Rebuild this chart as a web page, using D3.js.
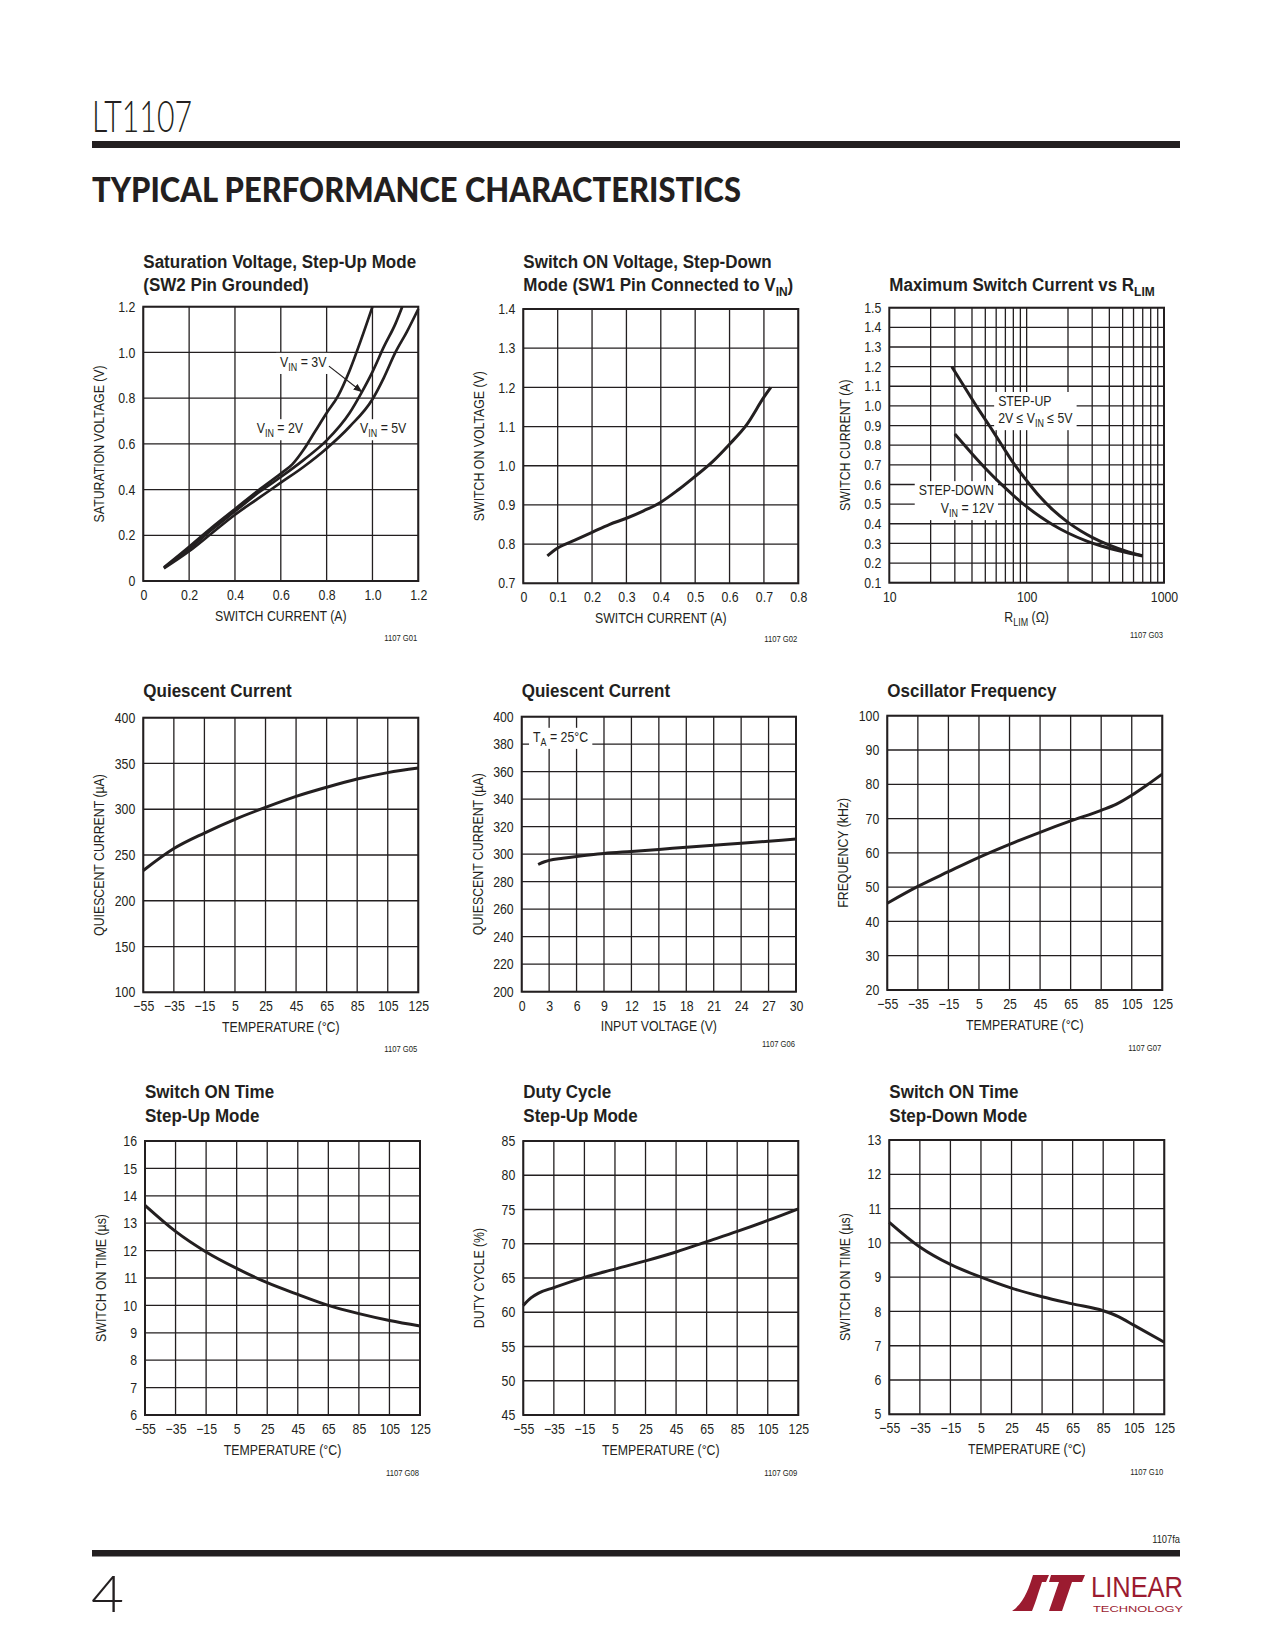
<!DOCTYPE html>
<html><head><meta charset="utf-8">
<script src="https://cdn.jsdelivr.net/npm/d3@7"></script>
<style>
body{margin:0;background:#fff;}
svg text{font-family:'Liberation Sans',Arial,Helvetica,sans-serif;fill:#231f20;}
.tick text{font-size:14.5px;}
.axt{font-size:14.5px;}
.ttl{font-size:18.5px;font-weight:bold;}
.code{font-size:9px;}
.ann{font-size:14.5px;}
</style></head><body><script>
// ---------------- DATA ----------------
const tempTicks = [-55,-35,-15,5,25,45,65,85,105,125];
const tempTickLabels = ["\u221255","\u221235","\u221215","5","25","45","65","85","105","125"];

// G01 Saturation voltage, step-up
const g01XTicks = [0,0.2,0.4,0.6,0.8,1.0,1.2];
const g01XLabels = ["0","0.2","0.4","0.6","0.8","1.0","1.2"];
const g01YTicks = [0,0.2,0.4,0.6,0.8,1.0,1.2];
const g01YLabels = ["0","0.2","0.4","0.6","0.8","1.0","1.2"];
const g01Vin2I = [0.09,0.2,0.3,0.4,0.5,0.6,0.65,0.7,0.75,0.8,0.85,0.9,0.95,1.0];
const g01Vin2V = [0.06,0.15,0.235,0.315,0.395,0.47,0.51,0.575,0.655,0.735,0.81,0.92,1.055,1.2];
const g01Vin3I = [0.09,0.2,0.3,0.4,0.5,0.6,0.7,0.8,0.9,0.95,1.0,1.05,1.1,1.13];
const g01Vin3V = [0.058,0.14,0.225,0.305,0.385,0.455,0.53,0.615,0.735,0.82,0.915,1.025,1.125,1.2];
const g01Vin5I = [0.09,0.2,0.3,0.4,0.5,0.6,0.7,0.8,0.9,1.0,1.05,1.1,1.15,1.2];
const g01Vin5V = [0.055,0.13,0.21,0.29,0.36,0.43,0.5,0.58,0.675,0.795,0.89,1.0,1.09,1.19];

// G02 Switch ON voltage, step-down
const g02XTicks = [0,0.1,0.2,0.3,0.4,0.5,0.6,0.7,0.8];
const g02XLabels = ["0","0.1","0.2","0.3","0.4","0.5","0.6","0.7","0.8"];
const g02YTicks = [0.7,0.8,0.9,1.0,1.1,1.2,1.3,1.4];
const g02YLabels = ["0.7","0.8","0.9","1.0","1.1","1.2","1.3","1.4"];
const g02I = [0.07,0.1,0.15,0.2,0.25,0.3,0.35,0.4,0.45,0.5,0.55,0.6,0.65,0.7,0.72];
const g02V = [0.77,0.79,0.81,0.83,0.85,0.866,0.885,0.907,0.938,0.973,1.01,1.055,1.105,1.175,1.2];

// G03 Maximum switch current vs RLIM
const g03XTicks = [10,100,1000];
const g03XLabels = ["10","100","1000"];
const g03XGrid = [20,30,40,50,60,70,80,90,100,200,300,400,500,600,700,800,900];
const g03YTicks = [0.1,0.2,0.3,0.4,0.5,0.6,0.7,0.8,0.9,1.0,1.1,1.2,1.3,1.4,1.5];
const g03YLabels = ["0.1","0.2","0.3","0.4","0.5","0.6","0.7","0.8","0.9","1.0","1.1","1.2","1.3","1.4","1.5"];
const g03UpR = [28.5,35,43,54,66,80,100,125,156,200,250,300,400,550,700];
const g03UpI = [1.2,1.1,1.0,0.895,0.8,0.71,0.62,0.537,0.469,0.407,0.362,0.331,0.291,0.257,0.237];
const g03DownR = [30,40,50,65,80,100,125,156,200,274,350,479,700];
const g03DownI = [0.857,0.757,0.683,0.603,0.545,0.487,0.437,0.394,0.353,0.312,0.287,0.261,0.236];

// G05 Quiescent current vs temperature
const g05YTicks = [100,150,200,250,300,350,400];
const g05YLabels = ["100","150","200","250","300","350","400"];
const g05T = [-55,-35,-15,5,25,45,65,85,105,125];
const g05I = [233,257,274,289,302,314,324,333,340,345];

// G06 Quiescent current vs input voltage
const g06XTicks = [0,3,6,9,12,15,18,21,24,27,30];
const g06XLabels = ["0","3","6","9","12","15","18","21","24","27","30"];
const g06YTicks = [200,220,240,260,280,300,320,340,360,380,400];
const g06YLabels = ["200","220","240","260","280","300","320","340","360","380","400"];
const g06V = [1.8,2.5,3,4.5,6,9,12,15,18,21,24,27,30];
const g06I = [292.5,294.5,295.5,297,298.3,300.5,302,303.5,305,306.5,308,309.5,311];

// G07 Oscillator frequency
const g07YTicks = [20,30,40,50,60,70,80,90,100];
const g07YLabels = ["20","30","40","50","60","70","80","90","100"];
const g07T = [-55,-35,-15,5,25,45,65,85,95,105,115,125];
const g07F = [45.3,50.2,54.5,58.7,62.5,66,69.3,72.4,74.2,76.8,79.8,83];

// G08 Switch ON time, step-up
const g08YTicks = [6,7,8,9,10,11,12,13,14,15,16];
const g08YLabels = ["6","7","8","9","10","11","12","13","14","15","16"];
const g08T = [-55,-35,-15,5,25,45,65,85,105,125];
const g08Ton = [13.65,12.7,11.95,11.35,10.83,10.4,10.0,9.7,9.45,9.25];

// G09 Duty cycle, step-up
const g09YTicks = [45,50,55,60,65,70,75,80,85];
const g09YLabels = ["45","50","55","60","65","70","75","80","85"];
const g09T = [-55,-50,-45,-35,-15,5,25,45,65,85,105,125];
const g09D = [61,62.1,62.8,63.6,65.1,66.3,67.5,68.8,70.3,71.8,73.4,75.1];

// G10 Switch ON time, step-down
const g10YTicks = [5,6,7,8,9,10,11,12,13];
const g10YLabels = ["5","6","7","8","9","10","11","12","13"];
const g10T = [-55,-35,-15,5,25,45,65,85,95,105,125];
const g10Ton = [10.6,9.88,9.37,9.0,8.68,8.43,8.22,8.02,7.85,7.6,7.1];

// ---------------- DRAWING ----------------
const INK = "#231f20";
const W = 1275, H = 1650;
const NARROW = 0.85, NARROW_BOLD = 0.92;
const svg = d3.select("body").append("svg").attr("width", W).attr("height", H);

svg.append("defs").append("marker").attr("id","arr")
  .attr("markerUnits","userSpaceOnUse").attr("markerWidth",10).attr("markerHeight",8)
  .attr("refX",9).attr("refY",4).attr("orient","auto")
  .append("path").attr("d","M0,0.5 L9,4 L0,7.5 Z").attr("fill",INK);

// horizontally condense text (emulates a condensed face) via a local scale transform
function cond(sel, f) {
  sel.each(function () {
    const t = d3.select(this);
    const x = +t.attr("x") || 0, y = +t.attr("y") || 0;
    const tr = t.attr("transform") || "";
    t.attr("x", 0).attr("y", 0).attr("transform", `${tr} translate(${x},${y}) scale(${f},1)`);
  });
  return sel;
}

function rich(t, parts, subSize, subDy) {
  let back = 0;
  parts.forEach(p => {
    if (typeof p === "string") {
      const s = t.append("tspan").text(p);
      if (back) { s.attr("dy", -back); back = 0; }
    } else {
      t.append("tspan").attr("font-size", subSize).attr("dy", subDy).text(p.sub);
      back = subDy;
    }
  });
  return t;
}

function makeChart(c) {
  const g = svg.append("g").attr("transform", `translate(${c.left},${c.top})`);
  const x = (c.xLog ? d3.scaleLog() : d3.scaleLinear()).domain(c.xDomain).range([0, c.w]);
  const y = d3.scaleLinear().domain(c.yDomain).range([c.h, 0]);

  g.append("g").selectAll("line").data(c.xGrid).join("line")
    .attr("x1", d => x(d)).attr("x2", d => x(d)).attr("y1", 0).attr("y2", c.h)
    .attr("stroke", INK).attr("stroke-width", 1.3);
  g.append("g").selectAll("line").data(c.yGrid).join("line")
    .attr("y1", d => y(d)).attr("y2", d => y(d)).attr("x1", 0).attr("x2", c.w)
    .attr("stroke", INK).attr("stroke-width", 1.3);
  g.append("rect").attr("width", c.w).attr("height", c.h)
    .attr("fill", "none").attr("stroke", INK).attr("stroke-width", 2);

  // axes
  const xa = d3.axisBottom(x).tickValues(c.xTicks).tickFormat((d, i) => c.xLabels[i]).tickSize(0).tickPadding(8.5);
  const gx = g.append("g").attr("transform", `translate(0,${c.h})`).call(xa)
    .call(s => s.select(".domain").remove());
  cond(gx.selectAll("text"), NARROW);
  const ya = d3.axisLeft(y).tickValues(c.yTicks).tickFormat((d, i) => c.yLabels[i]).tickSize(0).tickPadding(8);
  const gy = g.append("g").call(ya).call(s => s.select(".domain").remove());
  cond(gy.selectAll("text"), NARROW);

  // axis titles
  cond(rich(g.append("text").attr("class", "axt").attr("text-anchor", "middle")
    .attr("x", c.w / 2).attr("y", c.h + 39.5), c.xTitle, 10.5, 4), NARROW);
  cond(rich(g.append("text").attr("class", "axt").attr("text-anchor", "middle")
    .attr("transform", `translate(-39,${c.h / 2}) rotate(-90)`), c.yTitle, 10.5, 4), NARROW);

  // chart title
  c.title.forEach((line, i) => {
    cond(rich(svg.append("text").attr("class", "ttl").attr("x", c.left).attr("y", c.titleY[i]), line, 13, 4.5), NARROW_BOLD);
  });

  // figure code
  cond(svg.append("text").attr("class", "code").attr("text-anchor", "end")
    .attr("x", c.left + c.w - 1).attr("y", c.codeY).text(c.code), NARROW);

  // annotations with white background
  (c.labels || []).forEach(L => {
    const lg = g.append("g");
    const rect = lg.append("rect").attr("fill", "#fff");
    L.lines.forEach((line, i) => {
      cond(rich(lg.append("text").attr("class", "ann").attr("text-anchor", L.anchor)
        .attr("x", x(L.x)).attr("y", y(L.ys[i])), line, 10.5, 4), NARROW);
    });
    const bb = lg.node().getBBox();
    rect.attr("x", bb.x - 4).attr("y", bb.y - 1).attr("width", bb.width + 8).attr("height", bb.height + 2);
  });
  (c.arrows || []).forEach(a => {
    g.append("line").attr("x1", x(a[0][0])).attr("y1", y(a[0][1]))
      .attr("x2", x(a[1][0])).attr("y2", y(a[1][1]))
      .attr("stroke", INK).attr("stroke-width", 1.2).attr("marker-end", "url(#arr)");
  });

  // curves
  const line = d3.line().x(d => x(d[0])).y(d => y(d[1])).curve(d3.curveMonotoneX);
  c.series.forEach(s => {
    g.append("path").attr("d", line(d3.zip(s[0], s[1])))
      .attr("fill", "none").attr("stroke", INK).attr("stroke-width", c.lw || 3)
      .attr("stroke-linecap", "butt").attr("stroke-linejoin", "round");
  });
}

const VIN = ["V", {sub: "IN"}];

makeChart({
  left: 143.3, top: 306.7, w: 275, h: 274.3,
  xDomain: [0, 1.2], yDomain: [0, 1.2],
  xGrid: g01XTicks, yGrid: g01YTicks, xTicks: g01XTicks, xLabels: g01XLabels, yTicks: g01YTicks, yLabels: g01YLabels,
  xTitle: ["SWITCH CURRENT (A)"], yTitle: ["SATURATION VOLTAGE (V)"],
  title: [["Saturation Voltage, Step-Up Mode"], ["(SW2 Pin Grounded)"]], titleY: [268, 291],
  code: "1107 G01", codeY: 641, lw: 2.7,
  series: [[g01Vin2I, g01Vin2V], [g01Vin3I, g01Vin3V], [g01Vin5I, g01Vin5V]],
  labels: [
    {x: 0.597, ys: [0.937], anchor: "start", lines: [[...VIN, " = 3V"]]},
    {x: 0.495, ys: [0.647], anchor: "start", lines: [[...VIN, " = 2V"]]},
    {x: 0.946, ys: [0.647], anchor: "start", lines: [[...VIN, " = 5V"]]}
  ],
  arrows: [[[0.81, 0.94], [0.956, 0.826]]]
});

makeChart({
  left: 523.3, top: 309, w: 275, h: 274.3,
  xDomain: [0, 0.8], yDomain: [0.7, 1.4],
  xGrid: g02XTicks, yGrid: g02YTicks, xTicks: g02XTicks, xLabels: g02XLabels, yTicks: g02YTicks, yLabels: g02YLabels,
  xTitle: ["SWITCH CURRENT (A)"], yTitle: ["SWITCH ON VOLTAGE (V)"],
  title: [["Switch ON Voltage, Step-Down"], ["Mode (SW1 Pin Connected to V", {sub: "IN"}, ")"]], titleY: [268, 291],
  code: "1107 G02", codeY: 642,
  series: [[g02I, g02V]]
});

makeChart({
  left: 889.3, top: 307.7, w: 274.7, h: 275, xLog: true,
  xDomain: [10, 1000], yDomain: [0.1, 1.5],
  xGrid: g03XGrid, yGrid: g03YTicks, xTicks: g03XTicks, xLabels: g03XLabels, yTicks: g03YTicks, yLabels: g03YLabels,
  xTitle: ["R", {sub: "LIM"}, " (\u03A9)"], yTitle: ["SWITCH CURRENT (A)"],
  title: [["Maximum Switch Current vs R", {sub: "LIM"}]], titleY: [291],
  code: "1107 G03", codeY: 638,
  series: [[g03UpR, g03UpI], [g03DownR, g03DownI]],
  labels: [
    {x: 62, ys: [1.0, 0.913], anchor: "start", lines: [["STEP-UP"], ["2V \u2264 ", ...VIN, " \u2264 5V"]]},
    {x: 57.8, ys: [0.546, 0.455], anchor: "end", lines: [["STEP-DOWN"], [...VIN, " = 12V"]]}
  ]
});

makeChart({
  left: 143.3, top: 717.7, w: 275, h: 274.6,
  xDomain: [-55, 125], yDomain: [100, 400],
  xGrid: tempTicks, yGrid: g05YTicks, xTicks: tempTicks, xLabels: tempTickLabels, yTicks: g05YTicks, yLabels: g05YLabels,
  xTitle: ["TEMPERATURE (\u00B0C)"], yTitle: ["QUIESCENT CURRENT (\u00B5A)"],
  title: [["Quiescent Current"]], titleY: [697],
  code: "1107 G05", codeY: 1052,
  series: [[g05T, g05I]]
});

makeChart({
  left: 521.7, top: 716.7, w: 274.3, h: 275,
  xDomain: [0, 30], yDomain: [200, 400],
  xGrid: g06XTicks, yGrid: g06YTicks, xTicks: g06XTicks, xLabels: g06XLabels, yTicks: g06YTicks, yLabels: g06YLabels,
  xTitle: ["INPUT VOLTAGE (V)"], yTitle: ["QUIESCENT CURRENT (\u00B5A)"],
  title: [["Quiescent Current"]], titleY: [697],
  code: "1107 G06", codeY: 1047,
  series: [[g06V, g06I]],
  labels: [
    {x: 1.24, ys: [381.8], anchor: "start", lines: [["T", {sub: "A"}, " = 25\u00B0C"]]}
  ]
});

makeChart({
  left: 887.3, top: 715.7, w: 275, h: 274.3,
  xDomain: [-55, 125], yDomain: [20, 100],
  xGrid: tempTicks, yGrid: g07YTicks, xTicks: tempTicks, xLabels: tempTickLabels, yTicks: g07YTicks, yLabels: g07YLabels,
  xTitle: ["TEMPERATURE (\u00B0C)"], yTitle: ["FREQUENCY (kHz)"],
  title: [["Oscillator Frequency"]], titleY: [697],
  code: "1107 G07", codeY: 1051,
  series: [[g07T, g07F]]
});

makeChart({
  left: 145, top: 1141, w: 275, h: 274,
  xDomain: [-55, 125], yDomain: [6, 16],
  xGrid: tempTicks, yGrid: g08YTicks, xTicks: tempTicks, xLabels: tempTickLabels, yTicks: g08YTicks, yLabels: g08YLabels,
  xTitle: ["TEMPERATURE (\u00B0C)"], yTitle: ["SWITCH ON TIME (\u00B5s)"],
  title: [["Switch ON Time"], ["Step-Up Mode"]], titleY: [1098, 1122],
  code: "1107 G08", codeY: 1476,
  series: [[g08T, g08Ton]]
});

makeChart({
  left: 523.3, top: 1141, w: 275, h: 274,
  xDomain: [-55, 125], yDomain: [45, 85],
  xGrid: tempTicks, yGrid: g09YTicks, xTicks: tempTicks, xLabels: tempTickLabels, yTicks: g09YTicks, yLabels: g09YLabels,
  xTitle: ["TEMPERATURE (\u00B0C)"], yTitle: ["DUTY CYCLE (%)"],
  title: [["Duty Cycle"], ["Step-Up Mode"]], titleY: [1098, 1122],
  code: "1107 G09", codeY: 1476,
  series: [[g09T, g09D]]
});

makeChart({
  left: 889.3, top: 1140, w: 275, h: 274.3,
  xDomain: [-55, 125], yDomain: [5, 13],
  xGrid: tempTicks, yGrid: g10YTicks, xTicks: tempTicks, xLabels: tempTickLabels, yTicks: g10YTicks, yLabels: g10YLabels,
  xTitle: ["TEMPERATURE (\u00B0C)"], yTitle: ["SWITCH ON TIME (\u00B5s)"],
  title: [["Switch ON Time"], ["Step-Down Mode"]], titleY: [1098, 1122],
  code: "1107 G10", codeY: 1475,
  series: [[g10T, g10Ton]]
});

// ---------------- PAGE FURNITURE ----------------
svg.append("text").attr("x", 92).attr("y", 132)
  .style("font-family", "Lato, 'Liberation Sans', sans-serif").style("font-weight", 300)
  .attr("font-size", 44).attr("textLength", 100).attr("lengthAdjust", "spacingAndGlyphs").text("LT1107");
svg.append("rect").attr("x", 92).attr("y", 141).attr("width", 1088).attr("height", 7).attr("fill", INK);
svg.append("text").attr("x", 92).attr("y", 202)
  .style("font-family", "Lato, 'DejaVu Sans', sans-serif").style("font-weight", 900)
  .attr("font-size", 35).attr("textLength", 649).attr("lengthAdjust", "spacingAndGlyphs")
  .text("TYPICAL PERFORMANCE CHARACTERISTICS");

cond(svg.append("text").attr("text-anchor", "end").attr("x", 1180).attr("y", 1543)
  .style("font-size", "11px").text("1107fa"), NARROW);
svg.append("rect").attr("x", 92).attr("y", 1550).attr("width", 1088).attr("height", 6.5).attr("fill", INK);
svg.append("text").attr("x", 91).attr("y", 1612)
  .style("font-family", "Lato, 'Liberation Sans', sans-serif").style("font-weight", 300)
  .attr("font-size", 51).attr("textLength", 33).attr("lengthAdjust", "spacingAndGlyphs").text("4");

const RED = "#9b1b30";
const logo = svg.append("g");
logo.append("path").attr("fill", RED)
  .attr("d", "M1012,1611 C1024,1603 1029,1588 1033,1575 L1049,1575 L1046,1582 L1042,1582 C1038,1594 1035,1604 1032,1611 Z");
logo.append("path").attr("fill", RED)
  .attr("d", "M1051,1575 L1085,1575 L1082,1582 L1072,1582 L1062,1611 L1049,1611 L1059,1582 L1049,1582 Z");
logo.append("text").attr("x", 1091).attr("y", 1597).style("fill", RED)
  .attr("font-size", 30).attr("textLength", 92).attr("lengthAdjust", "spacingAndGlyphs").text("LINEAR");
logo.append("text").attr("x", 1093).attr("y", 1612).style("fill", RED)
  .attr("font-size", 9.5).attr("textLength", 90).attr("lengthAdjust", "spacingAndGlyphs").text("TECHNOLOGY");
</script></body></html>
